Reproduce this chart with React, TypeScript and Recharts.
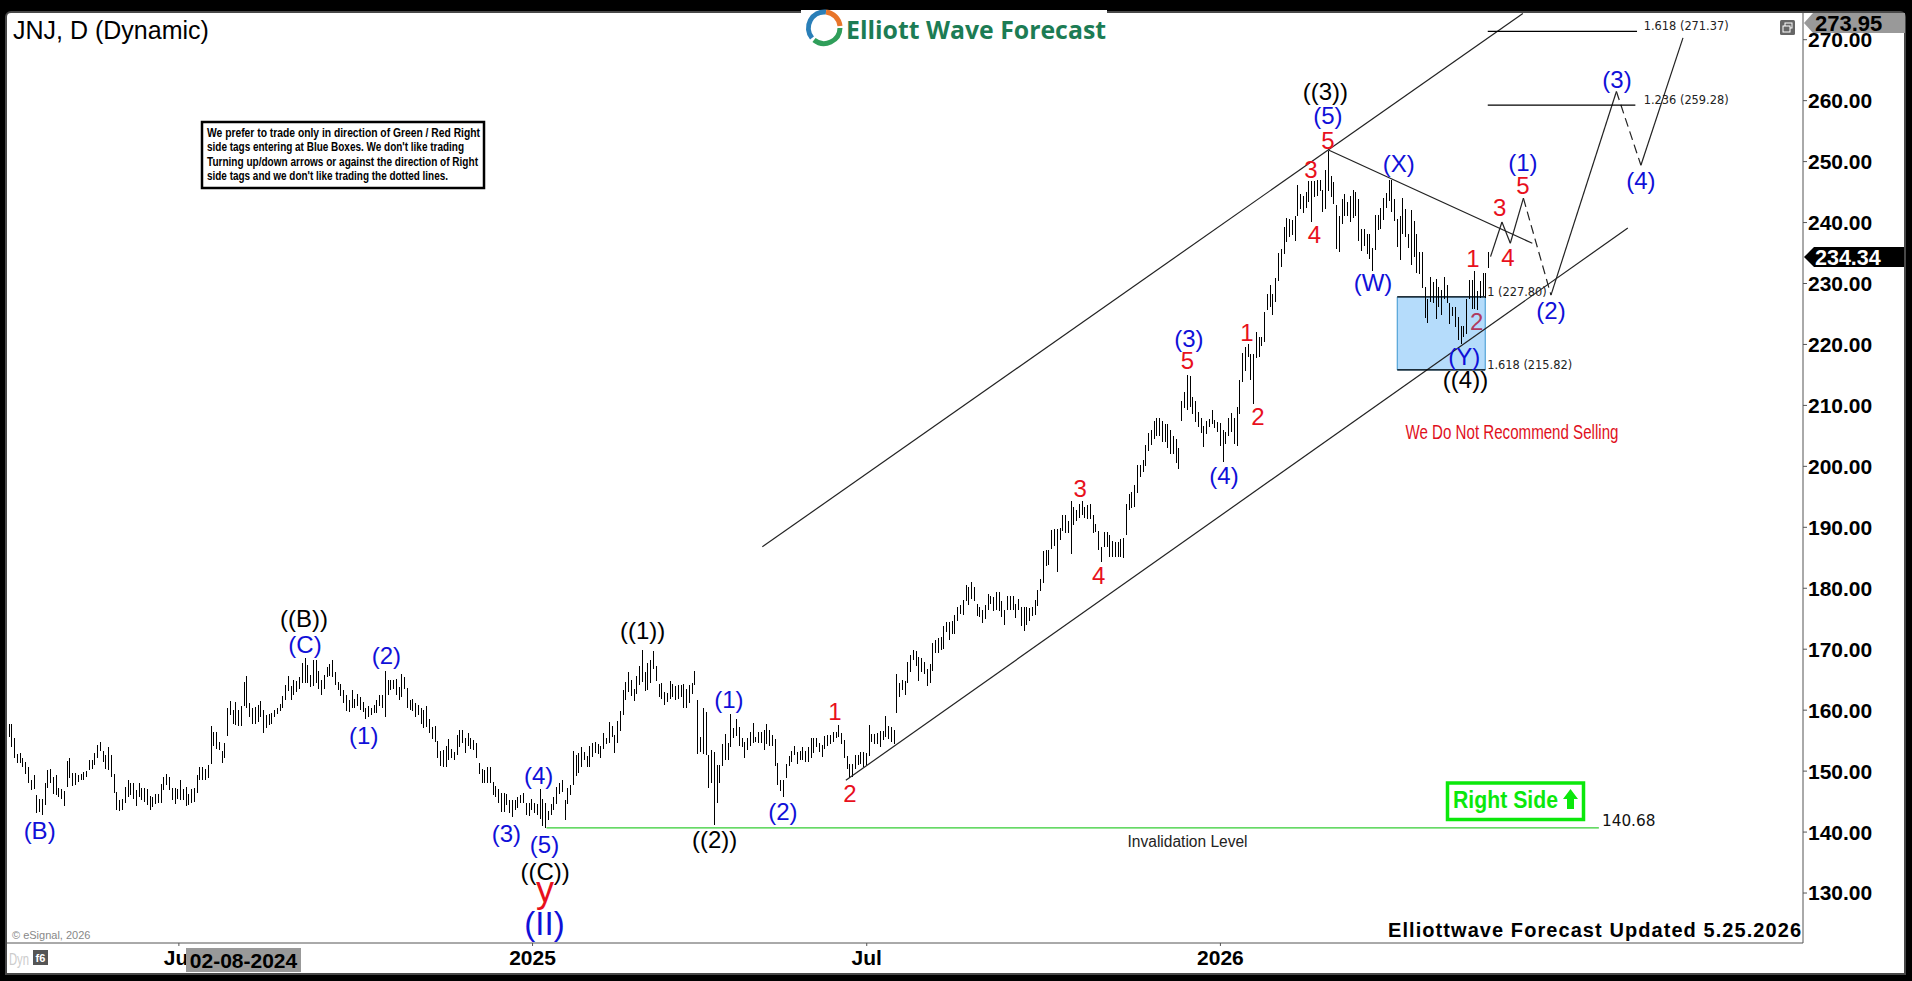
import React from "react";
import { ComposedChart, Bar, XAxis, YAxis, ReferenceLine, ReferenceArea, ReferenceDot } from "recharts";

const barsA = [[157.8,155.6],[157.8,154],[155.5,152.2],[152.8,151.4],[153,151.3],[152.2,150.7],[151.5,149.5],[150.7,148],[148.6,146.9],[149.3,147],[146,143.2],[145.4,143.3],[145.5,142.8],[148,144.4],[150.2,147.2],[150.3,148],[149,146.3],[149.3,146],[147.2,145.7],[147,145.5],[146.8,144.2],[151.7,147.4],[152.1,148.8],[149.7,147.5],[149.7,147.7],[149.3,148.2],[149.6,148.5],[149.9,148.5],[150,149],[151.8,150.2],[151.9,150.4],[152.9,151],[154.3,152.2],[154.8,153.3],[153.3,151.5],[152.6,150.4],[154,150.2],[152.6,149.1],[149.6,146.4],[146.6,143.6],[145.2,143.5],[145.5,143.7],[147.4,144.7],[148.6,145.8],[148.1,146.1],[148,145.5],[146.9,144.3],[148.1,145.8],[147.3,145.2],[147.2,145],[147,144.4],[145.9,143.6],[145.8,144.1],[146.2,144.6],[146.3,144.8],[147.9,144.8],[149,146.9],[149.5,147.7],[149.1,146.9],[147.2,145.2],[147.2,144.6],[147,145.4],[148.5,145.2],[147,145.2],[147.4,144.3],[146.3,144.4],[147,144.8],[147.2,145],[149.3,146.4],[150.6,148.5],[150.6,148.6],[150.4,148.5],[151,148.8],[157.4,151.1],[156.4,154.2],[156.4,153.7],[154.8,153.4],[153.3,151.4],[154.6,152.1],[160.4,155.7],[161.5,159.2],[160.1,157.7],[161.4,157.5],[160,157.4],[160.7,157.4],[164.6,160.7],[165.6,160.4],[161.1,158.8],[160.4,157.8],[160.5,157.7],[160.8,158],[161.5,158.9],[160.1,156.2],[159.2,157],[159.3,157.5],[159.5,157.8],[160,158.9],[160.4,159.3],[161,159.9],[162.3,160.4],[164.1,161.7],[165.6,163.2],[163.9,161.7],[164.9,162.5],[164.8,163],[165.4,163.5],[167.8,164.4],[168.6,164.5],[167.4,164.5],[165.7,163.8],[168.3,163.9],[168.3,164.4],[166.5,163.5],[164.9,162.5],[165.7,163.4],[167.1,165.5],[167.5,165.6],[168.2,165.5],[166.3,164.1],[164.6,163.3],[164.3,162.3],[163.3,161.1],[162.5,159.9],[161.6,159.7],[163.3,160.4],[161.9,160.3],[162.6,160.7],[162.1,160.1],[161.4,159.7],[160.4,158.5],[160.7,158.9],[160.4,159.2],[160.8,159.5],[161.6,159.6],[162.5,160.7],[162.5,160.4],[166.5,158.8],[164.9,162.5],[165,163.3],[165,163.5],[165.1,162.5],[163.8,161.7],[165.9,162.1],[165.5,163.5],[163.7,160.4],[161.7,160.1],[161.9,159.9],[161.1,158.8],[160.8,159.2]];
const barsB = [[160.3,157.8],[160,157],[160.7,157.3],[158.6,156.2],[157.3,155.2],[157.4,154.8],[155,152.2],[153.3,150.8],[153.4,150.6],[154.2,150.6],[155.2,151.8],[153.7,152.1],[153.2,151.8],[155.9,152.6],[156.8,153.9],[156.8,154.6],[155.4,152.9],[156.3,154.2],[155.5,153.7],[155.1,153.5],[154.6,152.1],[151.4,149.5],[150.3,148.1],[150.2,148.1],[150.6,148.1],[150.7,148.1],[148.2,146],[147.5,145.8],[147,144.8],[146.4,143.3],[146.4,143.3],[146.3,144.4],[145.2,143.2],[145.2,142.5],[145.2,143.7],[145.7,144],[146.1,144.7],[146.4,144.7],[144.8,142.8],[144.7,142.6],[145.5,143.6],[144.8,143.2],[144.6,142.8],[147,142.1],[145.4,141],[144.8,140.7],[143.5,142],[144.6,142.8],[145.8,143.6],[147.4,144.6],[148.1,146.2],[148.6,146.6],[145.2,141.9],[147.2,144.6],[147.7,146.1],[153.3,147.7],[152.6,149.2],[152.9,149.7],[154,150.7],[153.2,151.8],[152.4,150.6],[154.1,150.6],[154.6,152.3],[154.8,152.9],[154.4,152.8],[154.1,152.1],[156.2,153.7],[155.5,154.4],[158.1,154.6],[157.4,155.6],[155.9,153],[158.2,154.6],[159.9,156.6],[163.3,159.2],[164.6,161.7],[166.3,163],[164.9,162.3],[163.5,161.5],[165.6,162.6],[167.2,164.1],[169.8,164.6],[166.3,163.2],[167.8,163.3],[168.3,164.5],[169.7,166.8],[167.2,164.8],[164.3,162.1],[164.4,161.9],[163,160.8],[162.8,161.4],[164.8,161.9],[164.3,162.1],[163.9,161.7],[164.1,161.9],[164.1,162.2],[164.3,160.3],[163.5,160.4],[164.1,161.2],[164.5,162.6],[166.4,164.1],[161.7,152.8],[155.6,153.2],[160.4,152.8],[159.7,152.6],[152.6,147.2],[153.4,148],[153.2,141.2],[151,144.8],[151,148],[154.5,150.8],[156.1,151.8],[154.6,151.9],[159.3,153.9],[157,155.5],[158.5,155.7],[157.2,154.1],[155.4,154],[154.8,152.2],[155.5,153.5],[156.4,154.1],[157.9,154.6],[155.6,154.8],[156.4,154.6],[156.4,154.6],[156.7,153.4],[157.7,154.5],[156.8,154.1],[155.9,154.1],[155.2,150.8],[151.4,147.7],[148.6,146.8],[148.6,145.8],[151.1,148.8],[152.4,150.8],[153.3,151.5],[154.2,152.6],[153.2,151.1],[153.3,151.8],[153.9,151.8],[153.3,151.5],[154,151.5],[155.5,152.1],[155.5,153],[155.5,154],[154.6,153.2],[154.3,152.3],[155.7,153.7],[155.9,154.1],[155.9,154.4],[156.4,154.8],[156.4,155.4],[157.5,155.6]];
const barsC = [[156.3,154.5],[155.1,152.1],[152.5,150.4],[151.2,148.8],[151.2,149],[152.6,150.4],[152.6,151],[153.1,151.2],[153.1,150.6],[153,151],[157.5,152.5],[156.1,154.8],[156.1,154.5],[156.2,154.5],[156.6,154],[156.6,155.1],[159,155.6],[157.4,155.2],[157.3,154.8],[156.8,154.4],[165.9,159.6],[164.5,162.2],[164.9,163.3],[164.8,162.5],[167.9,164.5],[169,166.3],[169.8,168.2],[169.7,167.2],[168.7,164.8],[168.6,166.3],[167.9,166],[166.8,163.9],[167.5,164.5],[171,166.5],[171.5,169.4],[171.9,169.4],[172,169.8],[173.8,170],[174.5,172.8],[174.5,171.5],[174.7,172.5],[175.6,172.5],[177,174.6],[177.2,175.7],[178,175.6],[180.5,177.9],[180.2,177.2],[181,178.3],[180.2,177.9],[177.4,175.4],[177,175.3],[176.4,174.3],[177.2,175],[179,176.4],[178.8,177.4],[178.6,176.3],[179.4,176.4],[179.4,176.3],[177.9,175.3],[176.5,174],[178.7,176.4],[178.8,176.4],[178.8,176.5],[177.4,175.2],[178.3,176.4],[177,173.8],[177,173],[176.9,173.9],[176.8,174.6],[176.9,175.4],[178.1,175.6],[179.7,177.05],[181.6,179.6],[186.1,180.8],[186.3,183.6],[186.3,183.8],[189.6,186.5],[189.8,186.9],[189.8,182.7],[189.9,187.9],[192,189.4],[192,189],[191.1,189.1],[194.3,185.6],[193.3,190.3],[192.9,191.1],[193.9,191.6],[194.3,192],[193.4,191.6],[193.6,191.3],[193.8,191.4],[192.1,189.1],[190.6,189.2],[189.4,186.2],[186.7,184.3],[189.2,186.7],[189.2,186.7],[188.8,185.1],[187.7,185.2],[187.6,185.1],[187.6,185.1],[188.1,185.2],[188.2,184.9],[193.8,188.7],[195.4,192.9],[195.8,193.1],[197,193.3],[200.2,195.6],[200.2,198.2],[201,199.1]];
const barsD = [[203.5,200],[205.5,202.5],[206,203.5],[207.5,204.5],[208,205],[208,205],[207.5,204],[207,204],[207,203],[206,202],[205,202],[204.5,200.5],[203,199.5]];
const barsE = [[210.8,207.5],[212.2,209.5],[215,209.2],[214.9,209.7],[211.4,208.6],[210.8,207.3],[208.9,206.4],[208,205.5],[206.7,203.1],[207.5,205.3],[207.8,206.4],[209.3,207],[207.6,206.3],[207.3,205.6],[207.1,203.4],[205.9,200.7],[205.6,203.7],[208,204.9],[208.7,205.6],[208,203.6],[209.7,203.4],[214.1,208.6],[218.6,213.8],[219.6,215.6],[220,218],[218.5,214.2],[218.5,210.3],[222,217.7],[221.2,217.9],[221.3,219.7],[225.3,220.4],[228.3,225.7],[229.8,226.1],[228.3,224.9],[230.9,226.9],[235,230.4],[235.7,232.7],[239.2,234.8],[240.8,236.8],[240.6,237.7],[240.4,238],[241.1,237],[246.2,241],[244.7,242.2],[244.3,241.5],[245,242.4],[246.8,243.3],[246.8,240.1],[246.8,244.2],[247,244.4],[247,245.1],[245.4,241.7],[248.6,242.2],[251.7,245.2],[247.7,244.2],[246.6,243],[242.8,235.7],[241.1,235.1],[243.9,239.8],[244.7,241],[243.3,241.1],[244.3,240.1],[245.4,240.8],[245,241.1],[243.9,237],[239,235.4],[239,236.2],[238.1,234.8],[238.1,234.1],[235.8,232],[241.3,235.5],[241.3,238.7],[242.4,239],[244,240.4],[244.8,242.4],[247,243.5],[247,241.7],[243.9,240.3],[240.6,236],[241.1,233.8],[244,238.2],[242.2,237.7],[238.1,235.9],[242,233],[240.3,234.4],[238.1,231.7],[235.1,231.6],[235.1,229.3],[229.5,224.4],[227.5,223.5],[231.1,226.9],[230.2,226.8],[230.8,224.2],[229.4,226.1],[229,224.8],[231,227.5],[229.7,226.8],[226.8,223.4],[226.2,224.6],[226.2,222.8],[224.5,220.7],[223,220.1],[223,221.2],[227.5,221.7],[230.6,227.5],[230.6,225.8],[232,225.8],[228.8,225.6],[230.4,227.7],[231.7,228],[231.7,227.6],[235.1,232.6]];

const allBars = [...barsA, ...barsB, ...barsC, ...barsD, ...barsE];
const LAST_BAR_POSITION = 531.3;
const priceBars = allBars.map(([high, low], i) => ({ pos: (i * LAST_BAR_POSITION) / (allBars.length - 1), high, low }));

const priceTicks = [130, 140, 150, 160, 170, 180, 190, 200, 210, 220, 230, 240, 250, 260, 270];
const dateTickPositions = [61, 188, 308, 435];
const dateTickLabels = ["Jul", "2025", "Jul", "2026"];

const BLUE = "#1010d8";
const RED = "#e8101c";
const BLACK = "#000";
const MAROON = "#b03a5e";
// text, bar position, price, colour, size
const waveLabels: [string, number, number, string, number][] = [
  ["((B))", 105.9, 175.1, BLACK, 24], ["(C)", 106.3, 170.8, BLUE, 24], ["(2)", 135.5, 169, BLUE, 24], ["(1)", 127.4, 155.9, BLUE, 24],
  ["(B)", 11, 140.2, BLUE, 24], ["(4)", 190.2, 149.3, BLUE, 24], ["(3)", 178.6, 139.8, BLUE, 24], ["(5)", 192.3, 138, BLUE, 24],
  ["((C))", 192.5, 133.6, BLACK, 24], ["y", 192.5, 130.6, RED, 36], ["(II)", 192.3, 125, BLUE, 33],
  ["((1))", 227.5, 173, BLACK, 24], ["((2))", 253.4, 138.7, BLACK, 24], ["(1)", 258.5, 161.7, BLUE, 24], ["(2)", 277.9, 143.4, BLUE, 24],
  ["1", 296.6, 159.8, RED, 24], ["2", 302, 146.4, RED, 24], ["3", 384.6, 196.3, RED, 24], ["4", 391.3, 182.1, RED, 24],
  ["(3)", 423.7, 220.9, BLUE, 24], ["5", 423.2, 217.3, RED, 24], ["(4)", 436.3, 198.5, BLUE, 24], ["1", 444.5, 222, RED, 24], ["2", 448.5, 208.1, RED, 24],
  ["3", 467.5, 248.7, RED, 24], ["4", 468.8, 238.1, RED, 24], ["5", 473.6, 253.5, RED, 24], ["(5)", 473.6, 257.5, BLUE, 24], ["((3))", 472.7, 261.5, BLACK, 24],
  ["(X)", 499, 249.7, BLUE, 24], ["(W)", 489.8, 230.1, BLUE, 24], ["(Y)", 522.6, 218.1, BLUE, 24], ["((4))", 523, 214.2, BLACK, 24],
  ["2", 527, 223.7, MAROON, 24], ["1", 525.7, 234.1, RED, 24], ["3", 535.3, 242.5, RED, 24], ["4", 538.2, 234.3, RED, 24], ["5", 543.6, 246.1, RED, 24],
  ["(1)", 543.6, 249.8, BLUE, 24], ["(2)", 553.7, 225.6, BLUE, 24], ["(3)", 577.4, 263.5, BLUE, 24], ["(4)", 586, 246.9, BLUE, 24],
];
// x1, y1, x2, y2, dashed
const trendLines: [number, number, number, number, boolean][] = [
  [270.5, 186.8, 543.6, 274.3, false],
  [300.5, 148.5, 581.3, 239.1, false],
  [473.8, 251.9, 547, 236.6, false],
  [532, 234.4, 536.1, 240.1, false],
  [536.1, 240.1, 539.1, 236.6, false],
  [539.1, 236.6, 543.8, 244, false],
  [543.8, 244, 553.7, 228.1, true],
  [553.7, 228.1, 577.2, 261.5, false],
  [577.2, 261.5, 586, 249.4, true],
  [586, 249.4, 601.1, 270.3, false],
];
// x1, x2, price, text, text bar position
const fibLevels: [number, number, number, string, number][] = [
  [531, 584.6, 271.37, "1.618 (271.37)", 587],
  [531, 584, 259.28, "1.236 (259.28)", 587],
  [498.5, 530.1, 227.8, "1 (227.80)", 530.8],
  [498.5, 530.1, 215.82, "1.618 (215.82)", 530.8],
];
const FIB_TEXT_LIFT = 0.85;
const invalidation = { from: 193, to: 570.9, price: 140.68 };
const blueBox = { x1: 498.5, x2: 530.1, top: 227.8, bottom: 215.82 };
const lastPrice = 234.34;
const noteLines: [string, number][] = [
  ["We prefer to trade only in direction of Green / Red Right", 273],
  ["side tags entering at Blue Boxes. We don't like trading", 257],
  ["Turning up/down arrows or against the direction of Right", 271],
  ["side tags and we don't like trading the dotted lines.", 241],
];

const SANS = "'Liberation Sans', Arial, sans-serif";
const TAHOMA = "'DejaVu Sans', sans-serif";

const PriceBar = (p: any) => (
  <rect x={Math.round(p.x)} y={p.y} width={1} height={p.height} fill="#000" shapeRendering="crispEdges" />
);

const textShape = (text: string, fill: string, size: number, family: string, anchor: string = "middle", extra: any = {}) => (p: any) => (
  <text x={p.cx} y={p.cy} fill={fill} fontSize={size} fontFamily={family} textAnchor={anchor} dominantBaseline="central" {...extra}>{text}</text>
);

const lastPriceTag = (p: any) => (
  <g>
    <polygon points={`1804,${p.cy} 1814,${p.cy - 10} 1904,${p.cy - 10} 1904,${p.cy + 10} 1814,${p.cy + 10}`} fill="#000" />
    <text x={1815} y={p.cy + 1} fill="#fff" fontSize={21.5} fontWeight={700} fontFamily={SANS} dominantBaseline="central">{lastPrice.toFixed(2)}</text>
  </g>
);

export default function App() {
  return (
    <div style={{ position: "fixed", left: 0, top: 0, width: 1912, height: 981, background: "#000", overflow: "hidden" }}>
      <div style={{ position: "absolute", left: 5, top: 11, width: 1897, height: 960, background: "#fff", border: "2px solid #484848", borderRadius: "6px 6px 0 0" }} />
      <div style={{ position: "absolute", left: 0, top: 0 }}>
        <ComposedChart width={1912} height={981} data={priceBars} margin={{ left: 7, right: 6, top: 13, bottom: 9 }}>
          <XAxis dataKey="pos" type="number" domain={[-0.72, 644.2]} allowDataOverflow ticks={dateTickPositions} interval={0}
            tickFormatter={(v: number) => dateTickLabels[dateTickPositions.indexOf(v)]} height={29} tickSize={3} tickMargin={4}
            stroke="#555" tick={{ fill: "#000", fontFamily: SANS, fontWeight: 700, fontSize: 21 }} />
          <YAxis orientation="right" type="number" domain={[121.8, 274.38]} allowDataOverflow ticks={priceTicks} interval={0} width={103}
            tickFormatter={(v: number) => v.toFixed(2)} tickSize={4} tickMargin={1} stroke="#555"
            tick={{ fill: "#000", fontFamily: SANS, fontWeight: 700, fontSize: 21 }} />
          <ReferenceArea x1={blueBox.x1} x2={blueBox.x2} y1={blueBox.bottom} y2={blueBox.top} fill="#b5dcfb" fillOpacity={1} stroke="#3a95d0" strokeWidth={1} />
          <Bar dataKey={(d: any) => [d.low, d.high]} barSize={1} isAnimationActive={false} shape={PriceBar} />
          {trendLines.map(([x1, y1, x2, y2, dashed], k) => (
            <ReferenceLine key={`t${k}`} segment={[{ x: x1, y: y1 }, { x: x2, y: y2 }]} stroke="#222" strokeWidth={1.2} strokeDasharray={dashed ? "9 5" : undefined} ifOverflow="visible" />
          ))}
          {fibLevels.map(([x1, x2, price], k) => (
            <ReferenceLine key={`f${k}`} segment={[{ x: x1, y: price }, { x: x2, y: price }]} stroke="#000" strokeWidth={1.2} ifOverflow="visible" />
          ))}
          {fibLevels.map(([x1, x2, price, text, tx], k) => (
            <ReferenceDot key={`ft${k}`} x={tx} y={price + FIB_TEXT_LIFT} r={0} ifOverflow="visible" shape={textShape(text, "#222", 11.4, TAHOMA, "start")} />
          ))}
          <ReferenceLine segment={[{ x: invalidation.from, y: invalidation.price }, { x: invalidation.to, y: invalidation.price }]} stroke="#33cc33" strokeWidth={1.2} ifOverflow="visible" />
          <ReferenceDot x={572} y={invalidation.price + 1.2} r={0} ifOverflow="visible" shape={textShape(invalidation.price.toFixed(2), "#111", 15.3, TAHOMA, "start")} />
          <ReferenceDot x={423.2} y={138.5} r={0} ifOverflow="visible" shape={textShape("Invalidation Level", "#222", 16, SANS, "middle", { textLength: 120, lengthAdjust: "spacingAndGlyphs" })} />
          <ReferenceDot x={539.7} y={205.8} r={0} ifOverflow="visible" shape={textShape("We Do Not Recommend Selling", "#e0101c", 21, SANS, "middle", { textLength: 213, lengthAdjust: "spacingAndGlyphs" })} />
          {waveLabels.map(([text, x, y, color, size], k) => (
            <ReferenceDot key={`w${k}`} x={x} y={y} r={0} ifOverflow="visible" shape={textShape(text, color, size, SANS)} />
          ))}
          <ReferenceDot x={600} y={lastPrice} r={0} ifOverflow="visible" shape={lastPriceTag} />
        </ComposedChart>
      </div>
      <svg width={1912} height={981} style={{ position: "absolute", left: 0, top: 0, pointerEvents: "none" }}>
        <text x={13} y={30} fontSize={25} fontFamily={SANS} fill="#000" dominantBaseline="central">JNJ, D (Dynamic)</text>

        <rect x={202} y={122} width={282} height={66} fill="#fff" stroke="#000" strokeWidth={2.5} />
        {noteLines.map(([t, w], k) => (
          <text key={k} x={207} y={132 + k * 14.6} fontSize={13} fontWeight={700} fontFamily={SANS} fill="#000" dominantBaseline="central" textLength={w} lengthAdjust="spacingAndGlyphs">{t}</text>
        ))}

        <rect x={801} y={10} width={306} height={38} fill="#fff" />
        <path d="M 812 38 A 16 16 0 0 1 826 12" fill="none" stroke="#2a7fb8" strokeWidth={5} />
        <path d="M 826 12 A 16 16 0 0 1 840 26" fill="none" stroke="#e8752a" strokeWidth={5} />
        <path d="M 840 28 A 16 16 0 0 1 814 40" fill="none" stroke="#2f9e5a" strokeWidth={5} />
        <text x={846} y={29} fontSize={25} fontWeight={700} fontFamily="'Open Sans', sans-serif" fill="#1c7c54" dominantBaseline="central" textLength={260} lengthAdjust="spacingAndGlyphs">Elliott Wave Forecast</text>

        <rect x={1780} y={20} width={15} height={15} rx={1.5} fill="#666" />
        <rect x={1785} y={23} width={7} height={5} fill="none" stroke="#fff" strokeWidth={1} />
        <rect x={1783} y={26} width={7} height={6} fill="#666" stroke="#fff" strokeWidth={1} />

        <polygon points="1804,23 1813,13 1905,13 1905,33 1813,33" fill="#999" />
        <text x={1815} y={23} fontSize={22} fontWeight={700} fontFamily={SANS} fill="#000" dominantBaseline="central">273.95</text>

        <rect x={186} y={948} width={115} height={24} fill="#999" />
        <text x={243.5} y={960} fontSize={21} fontWeight={700} fontFamily={SANS} fill="#000" textAnchor="middle" dominantBaseline="central">02-08-2024</text>

        <text x={12} y={935} fontSize={11} fontFamily={SANS} fill="#888" dominantBaseline="central">© eSignal, 2026</text>
        <text x={9} y={959} fontSize={16} fontFamily={SANS} fill="#ccc" dominantBaseline="central" textLength={20} lengthAdjust="spacingAndGlyphs">Dyn</text>
        <rect x={33} y={950} width={15} height={15} fill="#555" />
        <text x={40.5} y={958} fontSize={11} fontWeight={700} fontFamily={SANS} fill="#fff" textAnchor="middle" dominantBaseline="central">f6</text>

        <text x={1801} y={930} fontSize={20} fontWeight={700} fontFamily={SANS} fill="#000" textAnchor="end" dominantBaseline="central" textLength={413} lengthAdjust="spacing">Elliottwave Forecast Updated 5.25.2026</text>

        <rect x={1447.5} y={783} width={136} height={36.5} fill="#fff" stroke="#0be80b" strokeWidth={3.5} />
        <text x={1453} y={800} fontSize={23} fontWeight={700} fontFamily={SANS} fill="#0be80b" dominantBaseline="central" textLength={105} lengthAdjust="spacingAndGlyphs">Right Side</text>
        <polygon points="1570.5,789 1578,799 1574,799 1574,809 1567,809 1567,799 1563,799" fill="#0be80b" />
      </svg>
    </div>
  );
}
